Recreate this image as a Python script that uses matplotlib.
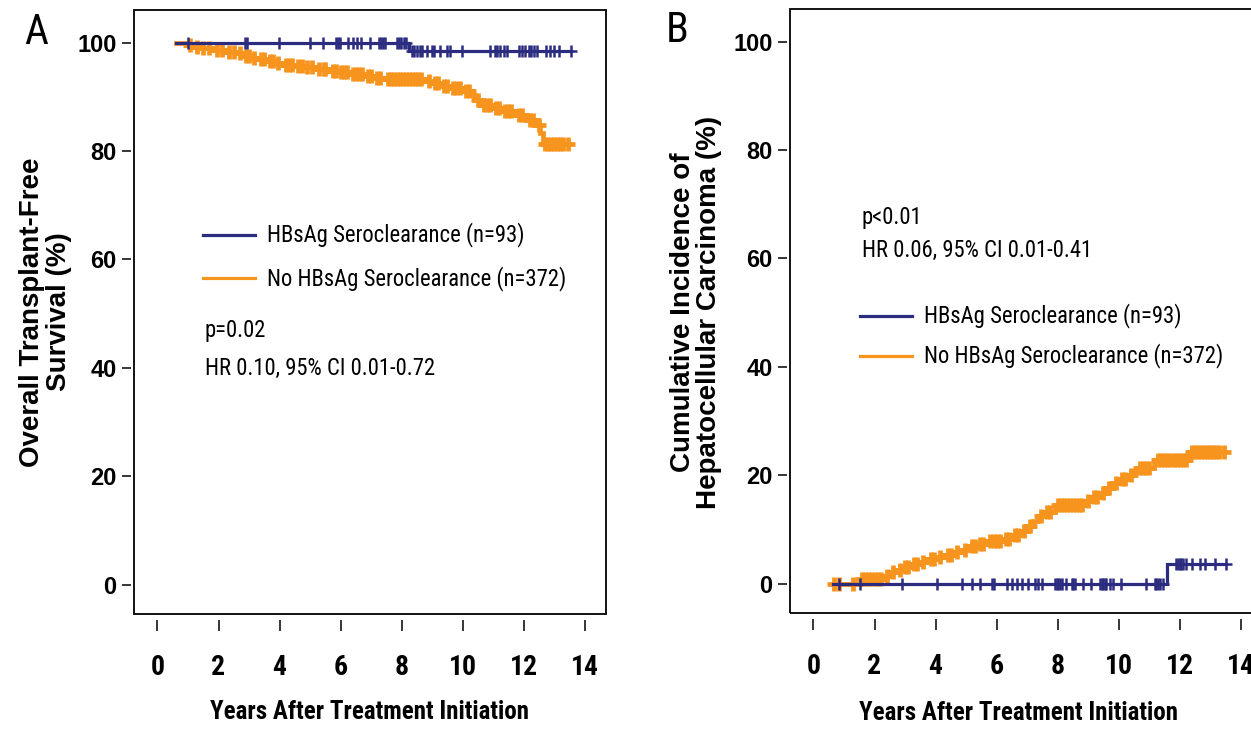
import numpy as np
import matplotlib
matplotlib.use("Agg")
import matplotlib.pyplot as plt
from matplotlib import font_manager
from matplotlib.patches import Rectangle

# ---- data ----
# Panel A: overall transplant-free survival (%)
a_sc_times = [0.62, 8.25, 13.54]
a_sc_surv = [100, 98.4, 98.4]
a_sc_cens = [1.0, 2.87, 2.93, 3.98, 5.0, 5.41, 5.86, 5.93, 5.99, 6.26, 6.40, 6.54,
             6.68, 6.95, 7.25, 7.32, 7.39, 7.47, 7.85, 7.92, 7.99, 8.07, 8.15,
             8.34, 8.42, 8.50, 8.60, 8.67, 8.83, 9.0, 9.07, 9.27, 9.49, 9.60, 9.98,
             10.91, 11.05, 11.13, 11.24, 11.35, 11.46, 11.84, 11.95, 12.06, 12.17,
             12.25, 12.33, 12.44, 12.72, 12.86, 12.99, 13.16, 13.54]

a_no_times = [0.62, 0.95, 1.15, 1.45, 1.8, 2.2, 2.55, 2.8, 3.05, 3.3,
              3.6, 3.85, 4.1, 4.5, 4.85, 5.2, 5.6, 5.95, 6.3, 6.8,
              7.1, 7.45, 8.8, 9.0, 9.3, 9.6, 10.0, 10.3, 10.4, 10.6,
              11.0, 11.3, 11.75, 12.1, 12.45, 12.55, 12.62, 13.45]
a_no_surv = [100, 99.6, 99.2, 98.9, 98.6, 98.3, 98.0, 97.6, 97.2, 96.9,
             96.6, 96.3, 95.9, 95.6, 95.4, 95.1, 94.8, 94.5, 94.2, 93.8,
             93.5, 93.2, 92.9, 92.5, 92.0, 91.6, 91.0, 90.3, 89.4, 88.5,
             88.0, 87.4, 86.7, 85.8, 84.8, 83.3, 81.2, 81.2]
a_no_cens = [1.05, 1.3, 1.5, 1.7, 1.95, 2.1, 2.35, 2.5, 2.7, 2.9, 3.0, 3.15, 3.4,
             3.5, 3.7, 3.8, 3.95, 4.2, 4.3, 4.4, 4.6, 4.75, 4.9, 5.05, 5.3, 5.45,
             5.5, 5.75, 5.85, 6.0, 6.1, 6.2, 6.4, 6.5, 6.6, 6.7, 6.9, 7.0, 7.2,
             7.3, 7.55, 7.65, 7.75, 7.85, 7.95, 8.05, 8.15, 8.25, 8.35, 8.45,
             8.55, 8.65, 8.9, 9.1, 9.2, 9.4, 9.5, 9.7, 9.8, 9.9, 10.1, 10.2,
             10.5, 10.7, 10.8, 10.9, 11.1, 11.2, 11.4, 11.5, 11.6, 11.85, 11.95,
             12.2, 12.3, 12.5, 12.7, 12.8, 12.9, 13.0, 13.1, 13.2, 13.3, 13.45]

# Panel B: cumulative incidence of HCC (%)
b_sc_times = [0.65, 11.57, 13.53]
b_sc_inc = [0, 3.7, 3.7]
b_sc_cens = [0.82, 1.53, 2.89, 4.04, 4.86, 5.18, 5.46, 5.85, 5.92, 6.33, 6.49,
             6.66, 6.82, 7.04, 7.26, 7.37, 7.48, 7.91, 7.97, 8.02, 8.08, 8.13,
             8.29, 8.46, 8.52, 8.57, 8.84, 9.11, 9.38, 9.44, 9.49, 9.55, 9.60,
             9.71, 9.82, 10.09, 10.91, 11.19, 11.24, 11.30, 11.35, 11.46,
             11.89, 11.95, 12.01, 12.06, 12.12, 12.22, 12.39, 12.66, 12.82,
             13.15, 13.53]

b_no_times = [0.66, 1.55, 2.3, 2.5, 2.75, 2.95, 3.2, 3.5, 3.75, 4.05,
              4.3, 4.6, 4.8, 5.1, 5.35, 5.7, 6.2, 6.5, 6.8, 7.0,
              7.2, 7.35, 7.55, 7.9, 8.95, 9.1, 9.45, 9.6, 9.8, 10.05,
              10.3, 10.5, 10.6, 11.15, 12.3, 13.45]
b_no_inc = [0, 0.9, 1.5, 2.1, 2.6, 3.1, 3.6, 4.0, 4.5, 4.9,
            5.3, 5.8, 6.3, 6.9, 7.4, 7.8, 8.3, 8.9, 9.8, 10.7,
            11.6, 12.4, 13.3, 14.5, 15.2, 16.0, 16.8, 17.6, 18.5, 19.4,
            20.0, 20.7, 21.4, 22.8, 24.3, 24.3]
b_no_cens = [0.66, 0.85, 1.3, 1.6, 1.7, 1.8, 1.9, 2.0, 2.1, 2.2, 2.4, 2.6, 2.85,
             3.0, 3.1, 3.3, 3.4, 3.6, 3.85, 3.95, 4.15, 4.4, 4.5, 4.7, 4.95,
             5.2, 5.3, 5.45, 5.55, 5.8, 5.9, 6.0, 6.1, 6.3, 6.4, 6.6, 6.7, 6.9,
             7.1, 7.45, 7.65, 7.75, 8.0, 8.1, 8.2, 8.3, 8.4, 8.5, 8.6, 8.7,
             8.8, 9.0, 9.2, 9.3, 9.5, 9.7, 9.9, 10.1, 10.2, 10.4, 10.7, 10.8,
             10.9, 11.0, 11.3, 11.4, 11.5, 11.6, 11.7, 11.8, 11.9, 12.0, 12.1,
             12.2, 12.4, 12.5, 12.6, 12.7, 12.8, 12.9, 13.0, 13.1, 13.2, 13.3,
             13.45]

x_ticks = [0, 2, 4, 6, 8, 10, 12, 14]
y_ticks = [0, 20, 40, 60, 80, 100]
label_sc = "HBsAg Seroclearance (n=93)"
label_no = "No HBsAg Seroclearance (n=372)"

BLUE = "#2b2b80"
ORANGE = "#f7941d"
SANS = "Liberation Sans"
plt.rcParams["font.family"] = [SANS, "DejaVu Sans"]

# look for a narrow / condensed face; if none, shrink the regular one
narrow_kw = None
for pref in ["Liberation Sans Narrow", "Arial Narrow", "Roboto Condensed"]:
    for f in font_manager.fontManager.ttflist:
        if f.name == pref:
            narrow_kw = dict(fontfamily=f.name)
            break
    if narrow_kw:
        break
if narrow_kw is None:
    for f in font_manager.fontManager.ttflist:
        if str(f.stretch) in ("condensed", "semi-condensed") and "Mono" not in f.name \
                and "Serif" not in f.name:
            narrow_kw = dict(fontfamily=f.name, fontstretch=f.stretch)
            break
NSCALE = 1.0
if narrow_kw is None:
    narrow_kw = dict(fontfamily=SANS)
    NSCALE = 0.87


def ntext(ax_or_fig, x, y, s, size, **kw):
    return ax_or_fig.text(x, y, s, fontsize=size * NSCALE, **narrow_kw, **kw)


def step_value(times, values, query):
    idx = np.searchsorted(times, query, side="right") - 1
    return np.asarray(values)[np.clip(idx, 0, None)]


def draw_km(ax, times, values, cens, color, lw=2.3, ms=9, mew=1.8):
    ax.step(times, values, where="post", color=color, lw=lw, solid_joinstyle="miter")
    ax.plot(cens, step_value(times, values, cens), ls="none", marker="+",
            ms=ms, mew=mew, color=color)


def style_axes(ax):
    ax.set_xlim(-0.77, 14.7)
    ax.set_ylim(-5.4, 106)
    for s in ax.spines.values():
        s.set_visible(False)
    ax.spines["bottom"].set_position(("outward", 4))
    ax.spines["left"].set_position(("outward", 2))
    ax.add_patch(Rectangle((0, 0), 1, 1, transform=ax.transAxes, fill=False,
                           lw=1.3, ec="black", clip_on=False, zorder=5))
    ax.set_xticks(x_ticks)
    ax.set_yticks(y_ticks)
    ax.tick_params(axis="x", length=8, width=1.1, pad=17)
    ax.tick_params(axis="y", length=6.5, width=1.1, pad=4)
    for t in ax.get_xticklabels():
        t.set_fontweight("bold")
        t.set_fontsize(20 * NSCALE)
        t.set_fontfamily(narrow_kw["fontfamily"])
        if "fontstretch" in narrow_kw:
            t.set_fontstretch(narrow_kw["fontstretch"])
    for t in ax.get_yticklabels():
        t.set_fontfamily(SANS)
        t.set_fontweight("bold")
        t.set_fontsize(17)


def legend_block(ax, x0, y1, y2):
    for y, c, lab in [(y1, BLUE, label_sc), (y2, ORANGE, label_no)]:
        ax.plot([x0, x0 + 0.11], [y, y], transform=ax.transAxes, color=c, lw=2.3)
        ntext(ax, x0 + 0.135, y, lab, 16.3, transform=ax.transAxes, ha="left", va="center")


fig = plt.figure(figsize=(12.51, 7.30), dpi=100)
W, H = 1251, 730
axA = fig.add_axes([134 / W, (H - 614) / H, 472 / W, 604 / H])
axB = fig.add_axes([790 / W, (H - 613) / H, 472 / W, 604 / H])

# Panel A
draw_km(axA, a_no_times, a_no_surv, a_no_cens, ORANGE, lw=3.4, ms=10, mew=3.4)
draw_km(axA, a_sc_times, a_sc_surv, a_sc_cens, BLUE)
style_axes(axA)
legend_block(axA, 0.146, 0.6275, 0.556)
ntext(axA, 0.15, 0.47, "p=0.02", 16.3, transform=axA.transAxes, ha="left", va="center")
ntext(axA, 0.15, 0.407, "HR 0.10, 95% CI 0.01-0.72", 16.3, transform=axA.transAxes,
      ha="left", va="center")
ntext(axA, 0.498, -0.162, "Years After Treatment Initiation", 18,
      transform=axA.transAxes, ha="center", va="center", fontweight="bold")

# Panel B
draw_km(axB, b_no_times, b_no_inc, b_no_cens, ORANGE, lw=3.4, ms=10, mew=3.4)
draw_km(axB, b_sc_times, b_sc_inc, b_sc_cens, BLUE)
style_axes(axB)
ntext(axB, 0.1525, 0.654, "p<0.01", 16.3, transform=axB.transAxes, ha="left", va="center")
ntext(axB, 0.1525, 0.601, "HR 0.06, 95% CI 0.01-0.41", 16.3, transform=axB.transAxes,
      ha="left", va="center")
legend_block(axB, 0.148, 0.492, 0.4255)
ntext(axB, 0.485, -0.166, "Years After Treatment Initiation", 18,
      transform=axB.transAxes, ha="center", va="center", fontweight="bold")

# y labels and panel letters
fig.text(46 / W, 1 - 312 / H, "Overall Transplant-Free\nSurvival (%)", rotation=90,
         ha="center", va="center", ma="center", fontsize=20, fontweight="bold",
         linespacing=1.05)
fig.text(696 / W, 1 - 312 / H, "Cumulative Incidence of\nHepatocellular Carcinoma (%)",
         rotation=90, ha="center", va="center", ma="center", fontsize=20,
         fontweight="bold", linespacing=1.05)
ntext(fig, 24 / W, 1 - 32 / H, "A", 30, ha="left", va="center")
ntext(fig, 666 / W, 1 - 30 / H, "B", 30, ha="left", va="center")

fig.savefig("out.png", dpi=100)
